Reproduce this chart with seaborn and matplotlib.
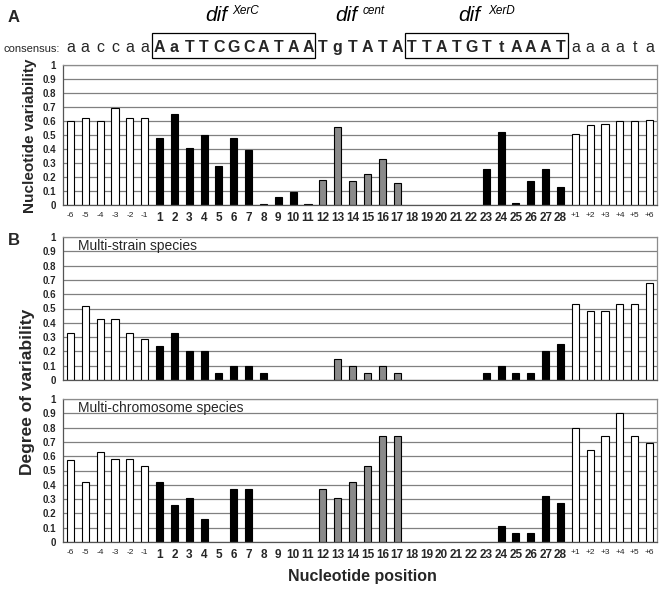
import matplotlib
matplotlib.use("Agg")
import matplotlib.pyplot as plt
import matplotlib.transforms as mtransforms
import seaborn as sns
import pandas as pd
import numpy as np
from matplotlib.patches import Rectangle

# ---------------- data ----------------
positions = ["-6", "-5", "-4", "-3", "-2", "-1"] + [str(i) for i in range(1, 29)] + \
            ["+1", "+2", "+3", "+4", "+5", "+6"]
groups = ["flank"] * 6 + ["xer"] * 11 + ["cent"] * 6 + ["xer"] * 11 + ["flank"] * 6

variability_A = [0.60, 0.62, 0.60, 0.69, 0.62, 0.62,
                 0.48, 0.65, 0.41, 0.50, 0.28, 0.48, 0.39, 0.01, 0.06, 0.09, 0.01,
                 0.18, 0.56, 0.17, 0.22, 0.33, 0.16,
                 0, 0, 0, 0, 0, 0.26, 0.52, 0.015, 0.17, 0.26, 0.13,
                 0.51, 0.57, 0.58, 0.60, 0.60, 0.61]
multi_strain = [0.33, 0.52, 0.43, 0.43, 0.33, 0.29,
                0.24, 0.33, 0.20, 0.20, 0.05, 0.10, 0.10, 0.05, 0, 0, 0,
                0, 0.15, 0.10, 0.05, 0.10, 0.05,
                0, 0, 0, 0, 0, 0.05, 0.10, 0.05, 0.05, 0.20, 0.25,
                0.53, 0.48, 0.48, 0.53, 0.53, 0.68]
multi_chrom = [0.57, 0.42, 0.63, 0.58, 0.58, 0.53,
               0.42, 0.26, 0.31, 0.16, 0, 0.37, 0.37, 0, 0, 0, 0,
               0.37, 0.31, 0.42, 0.53, 0.74, 0.74,
               0, 0, 0, 0, 0, 0, 0.11, 0.06, 0.06, 0.32, 0.27,
               0.80, 0.64, 0.74, 0.90, 0.74, 0.69]

consensus = ["a", "a", "c", "c", "a", "a",
             "A", "a", "T", "T", "C", "G", "C", "A", "T", "A", "A",
             "T", "g", "T", "A", "T", "A",
             "T", "T", "A", "T", "G", "T", "t", "A", "A", "A", "T",
             "a", "a", "a", "a", "t", "a"]

ytick_labels = ["0", "0.1", "0.2", "0.3", "0.4", "0.5", "0.6", "0.7", "0.8", "0.9", "1"]

palette = {"flank": "white", "xer": "black", "cent": "#8a8a8a"}

# ---------------- figure ----------------
sns.set_style("white")
plt.rcParams['font.family'] = ['Liberation Sans', 'DejaVu Sans']

W, H = 661, 589
fig = plt.figure(figsize=(W / 100, H / 100), dpi=100)


def fx(px):
    return px / W


def fy(py):
    return 1 - py / H


def make_axes(top, bottom, left=63, right=657):
    return fig.add_axes([fx(left), fy(bottom), (right - left) / W, (bottom - top) / H])


def draw(ax, values, show_x):
    df = pd.DataFrame({"pos": positions, "val": values, "grp": groups})
    sns.barplot(data=df, x="pos", y="val", hue="grp", palette=palette, order=positions,
                hue_order=["flank", "xer", "cent"], dodge=False, width=0.48,
                edgecolor="black", linewidth=0.8, legend=False, ax=ax)
    for p in ax.patches:
        if p.get_height() == 0:
            p.set_linewidth(0)
    ax.set_xlim(-0.5, len(positions) - 0.5)
    ax.set_ylim(0, 1)
    ax.set_yticks(np.linspace(0, 1, 11))
    ax.set_yticklabels(ytick_labels, fontsize=7, fontweight="bold")
    ax.yaxis.grid(True, color="#808080", lw=0.9)
    ax.xaxis.grid(False)
    ax.set_axisbelow(True)
    for s in ax.spines.values():
        s.set_color("#8c8c8c")
        s.set_linewidth(0.9)
    ax.spines["left"].set_color("#555555")
    ax.spines["bottom"].set_color("#555555")
    ax.set_xlabel("")
    ax.set_ylabel("")
    ax.tick_params(axis="y", length=3, width=0.7, color="#555555", pad=2)
    ax.set_xticks(np.arange(-0.5, len(positions), 1), minor=True)
    ax.tick_params(axis="x", which="minor", length=3, width=0.7, color="#555555")
    ax.tick_params(axis="x", which="major", length=0, pad=5)
    ax.set_xticks(range(len(positions)))
    if show_x:
        ax.set_xticklabels(positions)
        for lab in ax.get_xticklabels():
            t = lab.get_text()
            if t.startswith("-") or t.startswith("+"):
                lab.set_fontsize(6)
                lab.set_fontweight("normal")
            else:
                lab.set_fontsize(8.5)
                lab.set_fontweight("bold")
    else:
        ax.set_xticklabels([])


axA = make_axes(65, 205)
draw(axA, variability_A, True)
axB1 = make_axes(237, 380)
draw(axB1, multi_strain, False)
axB2 = make_axes(399, 542)
draw(axB2, multi_chrom, True)

axB1.text(0.025, 0.935, "Multi-strain species", transform=axB1.transAxes,
          fontsize=10, va="center", ha="left")
axB2.text(0.025, 0.935, "Multi-chromosome species", transform=axB2.transAxes,
          fontsize=10, va="center", ha="left")

# ---------------- labels ----------------
fig.text(fx(8), fy(18), "A", fontsize=12, fontweight="bold", va="center", ha="left")
fig.text(fx(8), fy(240), "B", fontsize=12, fontweight="bold", va="center", ha="left")
fig.text(fx(30), fy(136), "Nucleotide variability", rotation=90, fontsize=11,
         fontweight="bold", va="center", ha="center")
fig.text(fx(28), fy(392), "Degree of variability", rotation=90, fontsize=12.5,
         fontweight="bold", va="center", ha="center")
fig.text(fx(362), fy(576), "Nucleotide position", fontsize=11.5,
         fontweight="bold", va="center", ha="center")

# dif titles
for x0, xs, sup in [(205, 232, "XerC"), (335, 363, "cent"), (458, 488, "XerD")]:
    fig.text(fx(x0), fy(21), "dif", fontsize=15, fontstyle="italic", ha="left",
             va="baseline", color="black")
    fig.text(fx(xs), fy(14), sup, fontsize=8.5, fontstyle="italic", ha="left",
             va="baseline", color="black")

# consensus row, letters aligned with bar positions
fig.text(fx(3), fy(52), "consensus:", fontsize=8, ha="left", va="baseline")
trans = mtransforms.blended_transform_factory(axA.transData, fig.transFigure)
for i, (ch, g) in enumerate(zip(consensus, groups)):
    bold = g != "flank"
    axA.text(i, fy(52), ch, transform=trans, fontsize=11.5,
             fontweight="bold" if bold else "normal", ha="center", va="baseline",
             clip_on=False)

# boxes around XerC and XerD binding sites
for first, last in [(6, 16), (23, 33)]:
    x0 = axA.transData.transform((first - 0.5, 0))[0] / (W)
    x1 = axA.transData.transform((last + 0.5, 0))[0] / (W)
    fig.patches.append(Rectangle((x0, fy(58)), x1 - x0, 25 / H,
                                 transform=fig.transFigure, fill=False,
                                 edgecolor="black", linewidth=0.9))

fig.savefig("out.png", dpi=100)
